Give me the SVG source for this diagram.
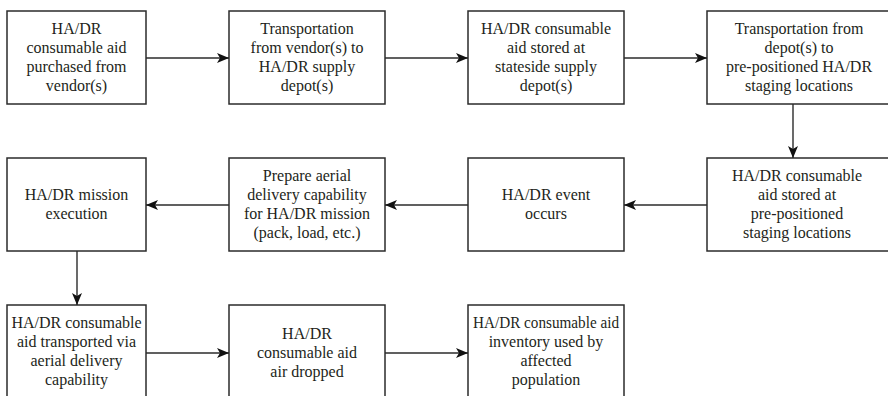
<svg xmlns="http://www.w3.org/2000/svg" width="888" height="396" viewBox="0 0 888 396">
  <style>
    .box { fill: #ffffff; stroke: #2b2b2b; stroke-width: 1.5; }
    .lbl { font-family: "Liberation Serif", "Times New Roman", serif; font-size: 16px; fill: #231f20; text-anchor: middle; }
    .edge { fill: none; stroke: #2b2b2b; stroke-width: 1.4; marker-end: url(#arrow); }
  </style>
  <defs>
    <marker id="arrow" viewBox="0 0 12 10" refX="12" refY="5" markerWidth="12" markerHeight="10" markerUnits="userSpaceOnUse" orient="auto">
      <path d="M0,0 L12,5 L0,10 L3,5 Z" fill="#111111"/>
    </marker>
  </defs>
  <rect width="888" height="396" fill="#ffffff"/>

  <!-- row 1 -->
  <g id="purchased">
    <rect class="box" x="7" y="11" width="139" height="93"/>
    <text class="lbl" x="76.5"><tspan x="76.5" y="34">HA/DR</tspan><tspan x="76.5" y="53">consumable aid</tspan><tspan x="76.5" y="72">purchased from</tspan><tspan x="76.5" y="91">vendor(s)</tspan></text>
  </g>
  <g id="to-depot">
    <rect class="box" x="229" y="11" width="156" height="93"/>
    <text class="lbl"><tspan x="307" y="34">Transportation</tspan><tspan x="307" y="53">from vendor(s) to</tspan><tspan x="307" y="72">HA/DR supply</tspan><tspan x="307" y="91">depot(s)</tspan></text>
  </g>
  <g id="stateside">
    <rect class="box" x="468" y="11" width="156" height="93"/>
    <text class="lbl"><tspan x="546" y="34">HA/DR consumable</tspan><tspan x="546" y="53">aid stored at</tspan><tspan x="546" y="72">stateside supply</tspan><tspan x="546" y="91">depot(s)</tspan></text>
  </g>
  <g id="to-staging">
    <rect class="box" x="707" y="11" width="184" height="93"/>
    <text class="lbl"><tspan x="799" y="34">Transportation from</tspan><tspan x="799" y="53">depot(s) to</tspan><tspan x="799" y="72">pre-positioned HA/DR</tspan><tspan x="799" y="91">staging locations</tspan></text>
  </g>

  <!-- row 2 -->
  <g id="staged">
    <rect class="box" x="707" y="158" width="184" height="93"/>
    <text class="lbl"><tspan x="797" y="181">HA/DR consumable</tspan><tspan x="797" y="200">aid stored at</tspan><tspan x="797" y="219">pre-positioned</tspan><tspan x="797" y="238">staging locations</tspan></text>
  </g>
  <g id="event">
    <rect class="box" x="468" y="158" width="156" height="93"/>
    <text class="lbl"><tspan x="546" y="200">HA/DR event</tspan><tspan x="546" y="219">occurs</tspan></text>
  </g>
  <g id="prepare">
    <rect class="box" x="229" y="158" width="156" height="93"/>
    <text class="lbl"><tspan x="307" y="181">Prepare aerial</tspan><tspan x="307" y="200">delivery capability</tspan><tspan x="307" y="219">for HA/DR mission</tspan><tspan x="307" y="238">(pack, load, etc.)</tspan></text>
  </g>
  <g id="execution">
    <rect class="box" x="7" y="158" width="139" height="93"/>
    <text class="lbl"><tspan x="76.5" y="200">HA/DR mission</tspan><tspan x="76.5" y="219">execution</tspan></text>
  </g>

  <!-- row 3 -->
  <g id="transported">
    <rect class="box" x="7" y="305" width="139" height="93"/>
    <text class="lbl"><tspan x="76.5" y="328">HA/DR consumable</tspan><tspan x="76.5" y="347">aid transported via</tspan><tspan x="76.5" y="366">aerial delivery</tspan><tspan x="76.5" y="385">capability</tspan></text>
  </g>
  <g id="dropped">
    <rect class="box" x="229" y="305" width="156" height="93"/>
    <text class="lbl"><tspan x="307" y="339">HA/DR</tspan><tspan x="307" y="358">consumable aid</tspan><tspan x="307" y="377">air dropped</tspan></text>
  </g>
  <g id="used">
    <rect class="box" x="468" y="305" width="156" height="93"/>
    <text class="lbl"><tspan x="546" y="328" textLength="146" lengthAdjust="spacingAndGlyphs">HA/DR consumable aid</tspan><tspan x="546" y="347">inventory used by</tspan><tspan x="546" y="366">affected</tspan><tspan x="546" y="385">population</tspan></text>
  </g>

  <!-- connectors -->
  <g id="connectors">
    <line class="edge" x1="146" y1="58" x2="229" y2="58"/>
    <line class="edge" x1="385" y1="58" x2="468" y2="58"/>
    <line class="edge" x1="624" y1="58" x2="707" y2="58"/>
    <line class="edge" x1="793" y1="104" x2="793" y2="158"/>
    <line class="edge" x1="707" y1="205" x2="624" y2="205"/>
    <line class="edge" x1="468" y1="205" x2="385" y2="205"/>
    <line class="edge" x1="229" y1="205" x2="146" y2="205"/>
    <line class="edge" x1="77" y1="251" x2="77" y2="305"/>
    <line class="edge" x1="146" y1="353" x2="229" y2="353"/>
    <line class="edge" x1="385" y1="353" x2="468" y2="353"/>
  </g>
</svg>
